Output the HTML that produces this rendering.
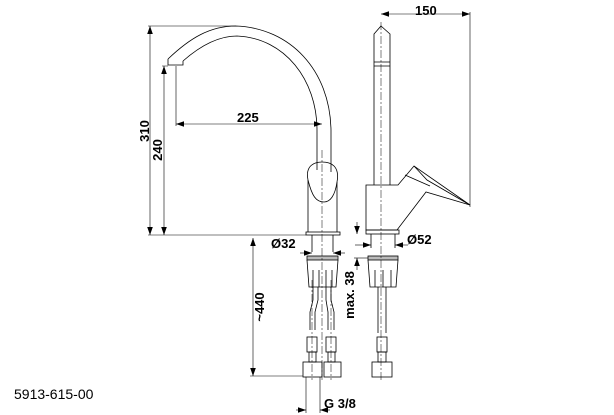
<!DOCTYPE html>
<html><head><meta charset="utf-8"><style>
html,body{margin:0;padding:0;background:#fff;}
svg{display:block;}
text{font-family:"Liberation Sans",Arial,sans-serif;font-weight:bold;fill:#000;}
</style></head><body>
<svg width="614" height="415" viewBox="0 0 614 415" xmlns="http://www.w3.org/2000/svg">
<defs>
<marker id="a" viewBox="0 0 10 10" refX="10" refY="5" markerWidth="8" markerHeight="8" orient="auto-start-reverse" markerUnits="userSpaceOnUse"><path d="M0,1.5 L10,5 L0,8.5z" fill="#000"/></marker>
</defs>
<g fill="none" stroke="#000" stroke-width="0.8">
<!-- left view spout -->
<path d="M168,59 C190,38 210,26 236,26 C290,28 330,70 331,130 L331,172"/>
<path d="M183,61 C200,46 218,36 237,36 C285,38 317,80 317,130 L317,170"/>
<path d="M168,59 L168,65 L183,65 L183,61"/>
<!-- body -->
<path d="M308,180 C305,165 315,162 322,162 C331,162 340,166 337,182 C335,196 330,202 324,202 C316,202 312,196 308,180z"/>
<path d="M308,180 L308,232 M337,182 L337,232"/>
<rect x="306" y="232" width="34" height="3"/>
<path d="M312,235 L312,252 M333,235 L333,252"/>
<rect x="307" y="256" width="31" height="4" fill="#bbb"/>
<path d="M307,260 L309,287 L336,287 L338,260"/>
<path d="M313,270 L313,287 M319,270 L319,287 M326,270 L326,287 M332,270 L332,287"/>
<path d="M313,287 L313,300 L310,312 L310,330 M318,287 L318,300 L315,312 L315,330 M326,287 L326,300 L328,312 L328,330 M331,287 L331,300 L334,312 L334,330"/>
<rect x="307" y="337" width="10" height="15"/><rect x="326" y="337" width="10" height="15"/>
<rect x="309" y="352" width="7" height="10"/><rect x="328" y="352" width="7" height="10"/>
<rect x="303" y="362" width="19" height="15"/><rect x="324" y="362" width="17" height="15"/>
<!-- right view -->
<path d="M374,185 L374,34 L381,26 L390,34 L390,185"/>
<path d="M374,62 L390,62 M374,66 L390,66"/>
<path d="M366,185 L398,185 L414,166 L470,205 L426,192 L397,230 L366,230 Z"/>
<path d="M414,166 L427,180 L470,205 M405,175 L430,186"/>
<rect x="366" y="230" width="33" height="4"/>
<path d="M371,234 L371,248 M395,234 L395,248"/>
<rect x="368" y="256" width="30" height="4" fill="#bbb"/>
<path d="M368,260 L370,287 L396,287 L398,260"/>
<path d="M375,270 L375,287 M383,270 L383,287 M391,270 L391,287"/>
<path d="M378,287 L378,333 M386,287 L386,333"/>
<rect x="377" y="337" width="10" height="15"/><rect x="378" y="352" width="8" height="10"/>
<rect x="372" y="362" width="20" height="15"/>
</g>
<!-- center lines -->
<g stroke="#000" stroke-width="0.5" stroke-dasharray="8,2,2,2" fill="none">
<path d="M322,150 L322,380 M381,22 L381,380 M312,280 L312,380 M331,280 L331,380"/>
</g>
<!-- dimensions -->
<g stroke="#000" stroke-width="0.6" fill="none">
<path d="M148,26 L236,26 M148,235 L306,235 M162,66 L168,66 M176,66 L176,126"/>
<path d="M150,26 L150,235" marker-start="url(#a)" marker-end="url(#a)"/>
<path d="M164,66 L164,235" marker-start="url(#a)" marker-end="url(#a)"/>
<path d="M176,124 L322,124" marker-start="url(#a)" marker-end="url(#a)"/>
<path d="M381,14 L470,14" marker-start="url(#a)" marker-end="url(#a)"/>
<path d="M470,12 L470,207"/>
<path d="M253,238 L253,376" marker-start="url(#a)" marker-end="url(#a)"/>
<path d="M250,376 L303,376"/>
<path d="M300,253 L312,253" marker-end="url(#a)"/><path d="M345,253 L333,253" marker-end="url(#a)"/>
<path d="M355,245 L371,245" marker-end="url(#a)"/><path d="M408,245 L395,245" marker-end="url(#a)"/>
<path d="M357,222 L357,234" marker-end="url(#a)"/><path d="M357,270 L357,258" marker-end="url(#a)"/>
<path d="M354,258 L368,258"/>
<path d="M306,377 L306,413 M320,377 L320,413"/>
<path d="M296,410 L306,410" marker-end="url(#a)"/><path d="M330,410 L320,410" marker-end="url(#a)"/>
</g>
<text x="415" y="15" font-size="13">150</text>
<text x="237" y="122" font-size="13">225</text>
<text x="271" y="248" font-size="13">Ø32</text>
<text x="407" y="244" font-size="13">Ø52</text>
<text x="324" y="408" font-size="13">G 3/8</text>
<text transform="translate(149,131) rotate(-90)" font-size="13" text-anchor="middle">310</text>
<text transform="translate(162,150) rotate(-90)" font-size="13" text-anchor="middle">240</text>
<text transform="translate(264,307) rotate(-90)" font-size="13" text-anchor="middle">~440</text>
<text transform="translate(354,295) rotate(-90)" font-size="13" text-anchor="middle">max. 38</text>
<text x="14" y="399" font-size="14" style="font-weight:normal">5913-615-00</text>
</svg>
</body></html>
